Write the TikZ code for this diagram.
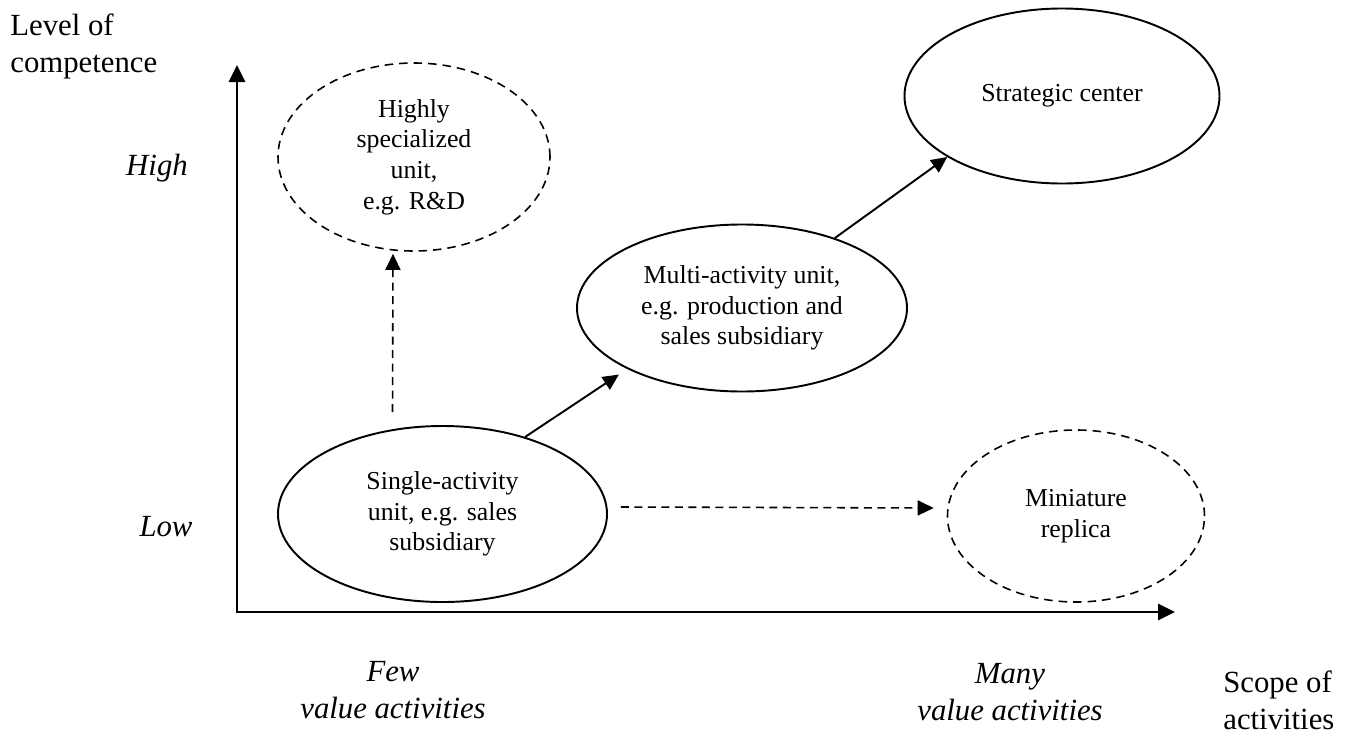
\documentclass[tikz,border=0pt]{standalone}
\usepackage{fontspec}
\setmainfont{Liberation Serif}
\usetikzlibrary{shapes.geometric,arrows.meta}

\begin{document}
\begin{tikzpicture}[x=0.2mm,y=-0.2mm,
  unitbox/.style={ellipse,draw,line width=1.1pt,inner sep=0pt,align=center,font=\fontsize{14.7}{17.5}\selectfont},
  dashunit/.style={unitbox,line width=0.9pt,dash pattern=on 1.7mm off 1.2mm},
  axislabel/.style={inner sep=0pt,align=center,font=\fontsize{17.5}{21}\selectfont},
  italabel/.style={axislabel,font=\fontsize{17.5}{21}\selectfont\itshape},
  arr/.style={-{Triangle[length=3.2mm,width=3mm]},line width=1.1pt},
  dasharr/.style={arr,line width=0.9pt,dash pattern=on 1.6mm off 1.1mm}]
\useasboundingbox (0,0) rectangle (1355,738);

% axes
\coordinate (origin) at (237,612);
\coordinate (ytop) at (237,65);
\coordinate (xend) at (1175,612);
\draw[line width=1.6pt,{Triangle[length=3.4mm,width=3.2mm]}-{Triangle[length=3.4mm,width=3.2mm]}] (ytop) -- (origin) -- (xend);

\node[axislabel,align=left,anchor=west] (ylabel) at (10,46) {Level of\\competence};
\node[axislabel,align=left,anchor=west] (xlabel) at (1223,700) {Scope of\\activities};
\node[italabel] (high) at (157,168) {High};
\node[italabel] (low) at (166,527) {Low};
\node[italabel] (few) at (393,690) {Few\\value activities};
\node[italabel] (many) at (1010,692) {Many\\value activities};

% units
\node[unitbox,minimum width=65.8mm,minimum height=35.2mm] (single) at (442.5,514) {Single-activity\\unit, e.g. sales\\subsidiary};
\node[dashunit,minimum width=54.4mm,minimum height=37.6mm] (spec) at (414,157) {Highly\\specialized\\unit,\\e.g. R\&D};
\node[unitbox,minimum width=66mm,minimum height=33.4mm] (multi) at (742,308) {Multi-activity unit,\\e.g. production and\\sales subsidiary};
\node[unitbox,minimum width=63mm,minimum height=35mm] (strat) at (1062,96) {Strategic center};
\node[dashunit,minimum width=51.4mm,minimum height=34.4mm] (mini) at (1076,516) {Miniature\\replica};

% paths
\draw[arr,shorten >=2mm] (single.43) -- (multi.208);
\draw[arr] (multi.37) -- (strat.208.5);
\draw[dasharr] ([shift={(-50,-13)}]single.north) -- ([shift={(-21,2)}]spec.south);
\draw[dasharr] ([shift={(13,-7)}]single.east) -- ([shift={(-13,-8)}]mini.west);
\end{tikzpicture}
\end{document}
